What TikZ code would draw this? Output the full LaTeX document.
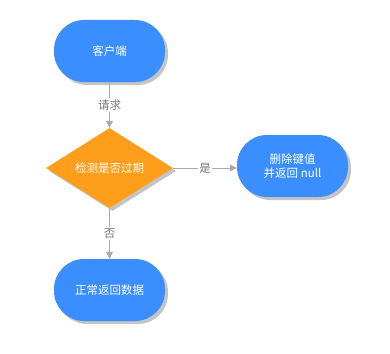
\documentclass[tikz,border=0pt]{standalone}
\usepackage{fontspec}
\setmainfont{Noto Sans CJK SC}
\usetikzlibrary{shapes.geometric,shapes.misc,arrows.meta,shadows}
\definecolor{nodeblue}{HTML}{3A8EFF}
\definecolor{nodeorange}{HTML}{FF9E1B}
\definecolor{linegray}{HTML}{AAAAAA}
\definecolor{labelgray}{HTML}{777777}
\definecolor{shadowgray}{HTML}{C4C4C4}
\tikzset{
  term/.style={rectangle, rounded corners=30pt, fill=nodeblue, text=white, minimum width=111pt, minimum height=62pt, inner sep=0pt, align=center, font=\fontsize{11.5}{14}\selectfont,
    drop shadow={shadow xshift=3pt, shadow yshift=-3pt, fill=shadowgray, opacity=1}},
  decide/.style={diamond, fill=nodeorange, text=white, minimum width=127pt, minimum height=80pt, aspect=1.6, inner sep=0pt, font=\fontsize{11.5}{14}\selectfont,
    drop shadow={shadow xshift=3pt, shadow yshift=-3pt, fill=shadowgray, opacity=1}},
  conn/.style={draw=linegray, line width=0.8pt, -{Triangle[length=7pt,width=7pt]}},
  lbl/.style={fill=white, text=labelgray, inner sep=1.5pt, font=\fontsize{11.5}{14}\selectfont},
}
\begin{document}
\begin{tikzpicture}[x=1pt,y=-1pt]
\useasboundingbox (0,0) rectangle (390,353);
\node[term] (client) at (109.5,51) {客户端};
\node[decide] (check) at (109.5,168) {检测是否过期};
\node[term] (delete) at (292.5,166) {删除键值\\并返回 null};
\node[term] (normal) at (109.5,290) {正常返回数据};
\draw[conn] (client) -- node[lbl] {请求} (check);
\draw[conn] (check.east) -- node[lbl] {是} (delete.west |- check.east);
\draw[conn] (check) -- node[lbl] {否} (normal);
\end{tikzpicture}
\end{document}
